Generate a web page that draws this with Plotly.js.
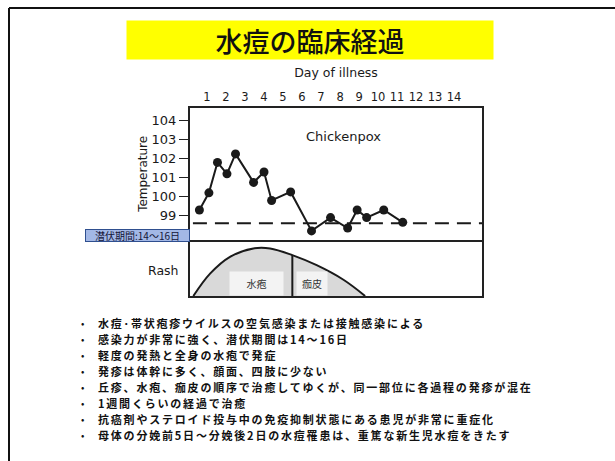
<!DOCTYPE html>
<html>
<head>
<meta charset="utf-8">
<script src="https://cdn.plot.ly/plotly-3.0.1.min.js"></script>
<style>
  html, body { margin: 0; padding: 0; background: #ffffff; }
  #chart { width: 615px; height: 461px; }
</style>
</head>
<body>
<div id="chart"></div>
<script>
// ---------- data ----------
const chartTitle = "水痘の臨床経過";
const dayTicks = [1, 2, 3, 4, 5, 6, 7, 8, 9, 10, 11, 12, 13, 14];
const dayLabels = ["1", "2", "3", "4", "5", "6", "7", "8", "9", "10", "11", "12", "13", "14"];
const tempTicks = [99, 100, 101, 102, 103, 104];
const tempLabels = ["99", "100", "101", "102", "103", "104"];

// temperature readings (°F)
const feverDay  = [0.6, 1.1, 1.55, 2.05, 2.5, 3.45, 4.0, 4.4, 5.4, 6.5, 7.5, 8.4, 8.9, 9.4, 10.3, 11.3];
const feverTemp = [99.3, 100.2, 101.8, 101.2, 102.25, 100.75, 101.3, 99.8, 100.25, 98.2, 98.9, 98.35, 99.3, 98.9, 99.3, 98.65];
const normalTemp = 98.6;

// rash intensity curve (relative 0..1)
const rashDay   = [0.28, 1.16, 2.21, 3.44, 4.32, 5.49, 6.77, 8.18, 9.32];
const rashLevel = [0.0, 0.40, 0.70, 0.85, 0.85, 0.73, 0.55, 0.29, 0.0];
const rashSplitDay = 5.49;
const rashSplitLevel = 0.73;
const rashStages = ["水疱", "痂皮"];
const rashStageDay = [3.6, 6.5];

const incubationLabel = "潜伏期間:14〜16日";
const bullets = [
  "水痘･帯状疱疹ウイルスの空気感染または接触感染による",
  "感染力が非常に強く、潜伏期間は14～16日",
  "軽度の発熱と全身の水疱で発症",
  "発疹は体幹に多く、顔面、四肢に少ない",
  "丘疹、水疱、痂皮の順序で治癒してゆくが、同一部位に各過程の発疹が混在",
  "1週間くらいの経過で治癒",
  "抗癌剤やステロイド投与中の免疫抑制状態にある患児が非常に重症化",
  "母体の分娩前5日～分娩後2日の水痘罹患は、重篤な新生児水痘をきたす"
];

// ---------- layout helpers ----------
const W = 615, H = 461;
const px = x => x / W;
const py = y => 1 - y / H;
const LAT = "DejaVu Sans, Lato, sans-serif";
const JP = "Noto Sans CJK JP, sans-serif";
const INK = "#1a1a1a";

const traces = [
  {
    x: feverDay, y: feverTemp, xaxis: "x", yaxis: "y",
    mode: "lines+markers", type: "scatter",
    line: { color: INK, width: 2 },
    marker: { color: INK, size: 9 },
    hoverinfo: "skip"
  },
  {
    x: rashDay, y: rashLevel, xaxis: "x2", yaxis: "y2",
    mode: "lines", type: "scatter",
    line: { color: INK, width: 2, shape: "spline", smoothing: 1 },
    fill: "tozeroy", fillcolor: "#d9d9d9",
    hoverinfo: "skip"
  },
  {
    x: [rashSplitDay, rashSplitDay], y: [0, rashSplitLevel], xaxis: "x2", yaxis: "y2",
    mode: "lines", type: "scatter",
    line: { color: INK, width: 2 },
    hoverinfo: "skip"
  }
];

const annotations = [
  {
    text: chartTitle, xref: "paper", yref: "paper",
    x: px(310), y: py(40), xanchor: "center", yanchor: "middle",
    showarrow: false, width: 366, height: 38, bgcolor: "#ffff00", borderpad: 0,
    font: { family: JP, size: 27, color: "#111", weight: 500 }
  },
  {
    text: "Chickenpox", xref: "paper", yref: "paper",
    x: px(343), y: py(136), xanchor: "center", yanchor: "middle", showarrow: false,
    font: { family: LAT, size: 13, color: INK }
  },
  {
    text: "Rash", xref: "paper", yref: "paper",
    x: px(181), y: py(270), xanchor: "right", yanchor: "middle", showarrow: false,
    font: { family: LAT, size: 12.5, color: INK }
  },
  {
    text: incubationLabel, xref: "paper", yref: "paper",
    x: px(137.5), y: py(235.5), xanchor: "center", yanchor: "middle", showarrow: false,
    width: 103, height: 11, bgcolor: "#a3b8e6", bordercolor: "#2f4f8f", borderwidth: 1, borderpad: 0,
    font: { family: JP, size: 10, color: "#141436" }
  }
];
bullets.forEach((t, i) => {
  const yy = 322.5 + i * 16.05;
  annotations.push({
    text: "•", xref: "paper", yref: "paper", x: px(82), y: py(yy),
    xanchor: "center", yanchor: "middle", showarrow: false, borderpad: 0,
    font: { family: JP, size: 10, color: "#111" }
  });
  annotations.push({
    text: '<span style="letter-spacing:1.8px"><b>' + t + '</b></span>',
    xref: "paper", yref: "paper", x: px(97), y: py(yy),
    xanchor: "left", yanchor: "middle", showarrow: false, borderpad: 0,
    font: { family: JP, size: 11, color: "#111" }
  });
});
rashStages.forEach((s, i) => {
  annotations.push({
    text: s, xref: "x2", yref: "paper",
    x: rashStageDay[i], y: py(283), xanchor: "center", yanchor: "middle", showarrow: false,
    bgcolor: "#f3f3f3", borderpad: 4, width: i === 0 ? 45 : 22,
    font: { family: JP, size: 10, color: "#333" }
  });
});

const shapes = [
  { type: "line", xref: "paper", yref: "paper", x0: px(9), x1: 1, y0: py(8), y1: py(8),
    line: { color: "#111", width: 2 } },
  { type: "line", xref: "paper", yref: "paper", x0: px(9), x1: px(9), y0: py(8), y1: 0,
    line: { color: "#111", width: 2 } },
  { type: "line", xref: "x domain", yref: "y", x0: 0.01, x1: 1, y0: normalTemp, y1: normalTemp,
    line: { color: INK, width: 2, dash: "14px,8px" } }
];

const axisLine = { showline: true, linecolor: "#222", linewidth: 2, showgrid: false, zeroline: false };

const layout = {
  width: W, height: H,
  margin: { l: 0, r: 0, t: 0, b: 0 },
  paper_bgcolor: "#ffffff", plot_bgcolor: "#ffffff",
  showlegend: false,
  xaxis: Object.assign({
    domain: [px(190), px(482)], anchor: "y", side: "top", mirror: true,
    range: [0.105, 15.47],
    tickmode: "array", tickvals: dayTicks, ticktext: dayLabels, ticks: "",
    tickfont: { family: LAT, size: 11.5, color: INK },
    title: { text: "Day of illness", font: { family: LAT, size: 12.5, color: INK }, standoff: 10 }
  }, axisLine),
  yaxis: Object.assign({
    domain: [py(240), py(107.7)], anchor: "x", mirror: true,
    range: [97.72, 104.68],
    tickmode: "array", tickvals: tempTicks, ticktext: tempLabels,
    ticks: "outside", ticklen: 9, tickcolor: "#222", tickwidth: 1.5,
    tickfont: { family: LAT, size: 13, color: INK },
    title: { text: "Temperature", font: { family: LAT, size: 12, color: INK } }
  }, axisLine),
  xaxis2: Object.assign({
    domain: [px(190), px(482)], anchor: "y2", matches: "x", mirror: false,
    showticklabels: false, ticks: ""
  }, axisLine),
  yaxis2: Object.assign({
    domain: [py(296), py(240)], anchor: "x2", mirror: true,
    range: [0, 1], showticklabels: false, ticks: ""
  }, axisLine),
  annotations: annotations,
  shapes: shapes
};

Plotly.newPlot("chart", traces, layout, { staticPlot: true, displayModeBar: false });
</script>
</body>
</html>
